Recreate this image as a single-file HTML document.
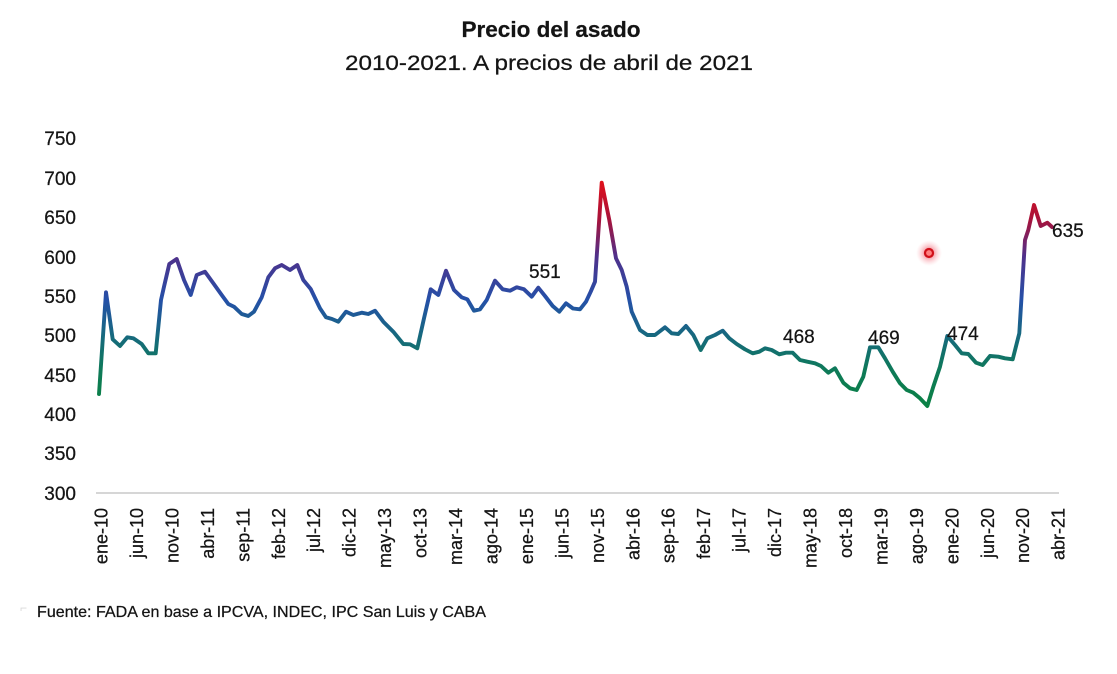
<!DOCTYPE html>
<html>
<head>
<meta charset="utf-8">
<style>
  html,body{margin:0;padding:0;background:#fff;}
  svg{display:block;}
  text{font-family:"Liberation Sans",sans-serif;fill:#141414;stroke:#141414;stroke-width:0.25;}
</style>
</head>
<body>
<svg width="1117" height="674" viewBox="0 0 1117 674" xmlns="http://www.w3.org/2000/svg">
  <defs>
    <linearGradient id="lg" gradientUnits="userSpaceOnUse" x1="0" y1="180" x2="0" y2="410">
      <stop offset="0" stop-color="#e2101a"/>
      <stop offset="0.17" stop-color="#a8123a"/>
      <stop offset="0.33" stop-color="#50308a"/>
      <stop offset="0.52" stop-color="#2550a8"/>
      <stop offset="0.67" stop-color="#176880"/>
      <stop offset="0.83" stop-color="#0e7a58"/>
      <stop offset="1" stop-color="#0a8242"/>
    </linearGradient>
    <radialGradient id="glow">
      <stop offset="0" stop-color="#e8202a" stop-opacity="0.9"/>
      <stop offset="0.45" stop-color="#f06070" stop-opacity="0.45"/>
      <stop offset="1" stop-color="#ffb0b8" stop-opacity="0"/>
    </radialGradient>
  </defs>
  <rect width="1117" height="674" fill="#fff"/>

  <!-- Titles -->
  <text x="551" y="37" text-anchor="middle" font-weight="bold" font-size="22" textLength="179" lengthAdjust="spacingAndGlyphs">Precio del asado</text>
  <text x="549" y="70" text-anchor="middle" font-size="21" textLength="408" lengthAdjust="spacingAndGlyphs">2010-2021. A precios de abril de 2021</text>

  <!-- Y axis labels -->
  <g font-size="19" text-anchor="end">
    <text x="76" y="145">750</text>
    <text x="76" y="185">700</text>
    <text x="76" y="224">650</text>
    <text x="76" y="264">600</text>
    <text x="76" y="303">550</text>
    <text x="76" y="342">500</text>
    <text x="76" y="382">450</text>
    <text x="76" y="421">400</text>
    <text x="76" y="460">350</text>
    <text x="76" y="500">300</text>
  </g>

  <!-- X axis line -->
  <line x1="96" y1="493" x2="1059" y2="493" stroke="#d6d6d6" stroke-width="2"/>

  <!-- X axis labels -->
  <g font-size="18" text-anchor="end">
    <text transform="translate(107.5,508) rotate(-90)">ene-10</text>
    <text transform="translate(143,508) rotate(-90)">jun-10</text>
    <text transform="translate(178.4,508) rotate(-90)">nov-10</text>
    <text transform="translate(213.9,508) rotate(-90)">abr-11</text>
    <text transform="translate(249.3,508) rotate(-90)">sep-11</text>
    <text transform="translate(284.8,508) rotate(-90)">feb-12</text>
    <text transform="translate(320.2,508) rotate(-90)">jul-12</text>
    <text transform="translate(355.7,508) rotate(-90)">dic-12</text>
    <text transform="translate(391.1,508) rotate(-90)">may-13</text>
    <text transform="translate(426.6,508) rotate(-90)">oct-13</text>
    <text transform="translate(462,508) rotate(-90)">mar-14</text>
    <text transform="translate(497.5,508) rotate(-90)">ago-14</text>
    <text transform="translate(532.9,508) rotate(-90)">ene-15</text>
    <text transform="translate(568.4,508) rotate(-90)">jun-15</text>
    <text transform="translate(603.8,508) rotate(-90)">nov-15</text>
    <text transform="translate(639.3,508) rotate(-90)">abr-16</text>
    <text transform="translate(674.7,508) rotate(-90)">sep-16</text>
    <text transform="translate(710.2,508) rotate(-90)">feb-17</text>
    <text transform="translate(745.6,508) rotate(-90)">jul-17</text>
    <text transform="translate(781.1,508) rotate(-90)">dic-17</text>
    <text transform="translate(816.5,508) rotate(-90)">may-18</text>
    <text transform="translate(852,508) rotate(-90)">oct-18</text>
    <text transform="translate(887.4,508) rotate(-90)">mar-19</text>
    <text transform="translate(922.9,508) rotate(-90)">ago-19</text>
    <text transform="translate(958.3,508) rotate(-90)">ene-20</text>
    <text transform="translate(993.8,508) rotate(-90)">jun-20</text>
    <text transform="translate(1029.2,508) rotate(-90)">nov-20</text>
    <text transform="translate(1064.7,508) rotate(-90)">abr-21</text>
  </g>

  <!-- Series -->
  <polyline fill="none" stroke="url(#lg)" stroke-width="3.9" stroke-linejoin="round" stroke-linecap="round"
    points="99,394 106,292.3 112.7,339.3 120,346 127.3,337.3 133.3,338.3 141.7,344 148.3,353.3 155.7,353.3 161,300 164,286.7 169.3,264 176.7,259 184,280 190.7,295 196.7,275 205,271.7 213.3,283.3 221.7,295 228.3,304 234,306.7 241.7,314 248.3,316 254,311.7 261.7,297.3 268.3,277.3 275,268.3 281.7,265 290,270 297.3,265 303.3,280 310.7,289 320,308.3 326,317.3 332,319 338.3,321.7 346,311.7 353.3,315 361.7,312.7 368.3,314 375,310.7 383.3,321.7 393.3,331.7 403.3,344 410,344.3 417.3,348.3 424,318.3 430.7,289.3 438.3,295 446,270.7 454,290 461.7,297.3 467.3,299.3 474,310.7 480,309.3 486.7,300 495,280.7 502.7,289.3 510,290.7 516.7,287.3 524,289.3 531.7,296.7 538.3,287.7 545,296 552.7,306 559.3,311.7 566,303.3 573,308.5 580,309.3 586,301.7 590.7,291.7 595,281.7 601.7,182.7 609.3,220 616,258.3 621.7,270 626.7,286.7 631.7,311.7 640,330 647.3,335 655,335 665,327.3 671.7,333.3 678.3,334 686,326 693.3,335 700.7,350 707.3,338.3 715,335 722.7,330.7 729.3,338.3 736.7,344 745,349.3 752.7,353.3 759.3,351.7 765,348.3 771.7,350 779.3,354.3 786,352.7 792.7,352.7 800,360 807.3,361.7 815,363.3 821,366 828.3,372.7 835,368.3 843.3,382.7 850,388.3 856.7,390 863.3,376.7 870,347.3 878.3,347.3 885,358.3 892.7,371.7 900,383.3 906.7,390 913.3,392.7 920,398.3 927.3,406 933.3,386.7 940,366.7 947.3,336 955,345 961.7,353.3 968.3,354 976,362.7 982.7,365 990,356 998.3,356.7 1005,358.3 1012.7,359.3 1019.3,333.3 1025,240 1028.3,230 1034,205 1040.7,226 1047.3,222.7 1052,227"/>

  <!-- Data labels -->
  <g font-size="19">
    <text x="529" y="278">551</text>
    <text x="783" y="343">468</text>
    <text x="868" y="344">469</text>
    <text x="947" y="340">474</text>
    <text x="1052" y="237">635</text>
  </g>

  <!-- red marker -->
  <circle cx="929" cy="253" r="13" fill="url(#glow)"/>
  <circle cx="929" cy="253" r="4" fill="#ff8080" stroke="#d0101a" stroke-width="2.2"/>

  <!-- Source -->
  <text x="37" y="617" font-size="16" textLength="449" lengthAdjust="spacingAndGlyphs">Fuente: FADA en base a IPCVA, INDEC, IPC San Luis y CABA</text>
  <text x="20" y="612" font-size="12" style="fill:#d8d8d8;stroke:none">⌐</text>
</svg>
</body>
</html>
